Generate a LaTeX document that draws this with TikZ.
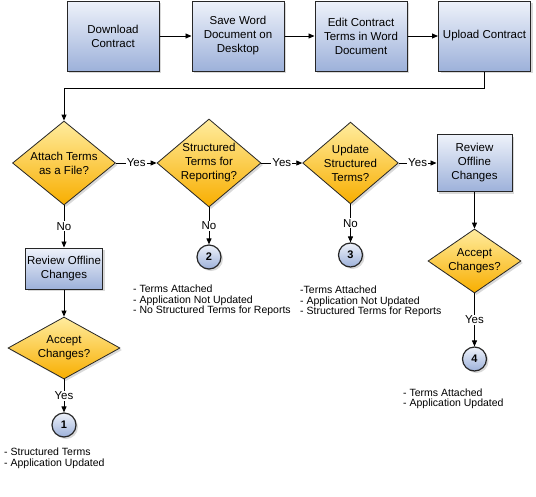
\documentclass[tikz,border=0pt]{standalone}
\usepackage{fontspec}
\setmainfont{Liberation Sans}
\usepackage{tikz}
\usetikzlibrary{positioning, calc}
\usetikzlibrary{arrows.meta}
\usetikzlibrary{shapes,shadows}
\definecolor{boxtop}{HTML}{EEF2FA}
\definecolor{boxbot}{HTML}{9DB1DA}
\definecolor{dectop}{HTML}{FFEC9E}
\definecolor{decbot}{HTML}{F8AE00}

\begin{document}
\begin{tikzpicture}[x=1pt,y=-1pt,draw=black!100,>={Triangle[length=6pt,width=5pt]}]

	\def \topline{36}
	\def \decline{163}
	\def \leftcol{64}
	\tikzstyle{t-node}=[draw=black!85,line width=1pt,top color=boxtop,bottom color=boxbot,drop shadow={opacity=0.3,shadow xshift=2pt,shadow yshift=-2pt},align=center,inner sep=0pt,minimum width=92pt,minimum height=70pt,font=\fontsize{11.5}{14}\selectfont]
	\tikzstyle{d-node}=[diamond,draw=black!85,line width=0.8pt,top color=dectop,bottom color=decbot,drop shadow={opacity=0.3,shadow xshift=2pt,shadow yshift=-2pt},align=center,inner sep=0pt,font=\fontsize{11.5}{14}\selectfont]
	\tikzstyle{c-node}=[circle,draw=black!85,line width=1.2pt,top color=boxtop,bottom color=boxbot,drop shadow={opacity=0.3,shadow xshift=2pt,shadow yshift=-2pt},minimum size=24pt,inner sep=0pt,font=\bfseries\fontsize{11}{13}\selectfont]
	\tikzstyle{annot}=[align=left,anchor=north west,inner sep=0pt,font=\fontsize{10.5}{10.5}\selectfont]
	\tikzstyle{flow}=[->,line width=0.9pt]
	\tikzstyle{choice}=[fill=white,inner sep=1pt,font=\fontsize{11.5}{14}\selectfont]

	\useasboundingbox (0,0) rectangle (536,496);

	% first row
	\node[t-node] 	(download)	at (113,\topline)		{Download\\Contract};
	\node[t-node] 	(saveword)	at (238,\topline)		{Save Word\\Document on\\Desktop};
	\node[t-node] 	(editterms)	at (361,\topline)		{Edit Contract\\Terms in Word\\Document};
	\node[t-node] 	(upload)	at (484.5,\topline)		{Upload Contract};

	% decisions
	\node[d-node,minimum width=103pt,minimum height=84pt,aspect=1.23] 	(attach)	at (\leftcol,\decline)	{Attach Terms\\as a File?};
	\node[d-node,minimum width=104pt,minimum height=88pt,aspect=1.18] 	(reporting)	at (209,\decline)	{Structured\\Terms for\\Reporting?};
	\node[d-node,minimum width=95pt,minimum height=81pt,aspect=1.17] 	(update)	at (350.5,\decline)	{Update\\Structured\\Terms?};
	\node[t-node,minimum width=75pt,minimum height=57pt] 	(reviewright)	at (474.5,\decline)	{Review\\Offline\\Changes};

	% right branch
	\node[d-node,minimum width=93pt,minimum height=64pt,aspect=1.45] 	(acceptright)	at (474.5,261)	{Accept\\Changes?};
	\node[c-node] 	(end4)	at (474.5,359)	{4};
	\node[annot] 	(note4)	at (403,388.5)	{- Terms Attached\\- Application Updated};

	% left branch
	\node[t-node,minimum width=77pt,minimum height=41pt] 	(reviewleft)	at (\leftcol,268.5)	{Review Offline\\Changes};
	\node[d-node,minimum width=112pt,minimum height=62pt,aspect=1.8] 	(acceptleft)	at (\leftcol,348)	{Accept\\Changes?};
	\node[c-node] 	(end1)	at (\leftcol,425)	{1};
	\node[annot] 	(note1)	at (4,448)	{- Structured Terms\\- Application Updated};

	% middle ends
	\node[c-node] 	(end2)	at (209,257)	{2};
	\node[c-node] 	(end3)	at (350.5,255)	{3};
	\node[annot] 	(note2)	at (133,285)	{- Terms Attached\\- Application Not Updated\\- No Structured Terms for Reports};
	\node[annot] 	(note3)	at (300,286)	{-Terms Attached\\- Application Not Updated\\- Structured Terms for Reports};

	% connectors
	\draw[flow] (download) -- (saveword);
	\draw[flow] (saveword) -- (editterms);
	\draw[flow] (editterms) -- (upload);
	\draw[flow] (upload.south) -- ++(0,17) -| (attach.north);
	\draw[flow] (attach) -- node[choice] {Yes} (reporting);
	\draw[flow] (reporting) -- node[choice] {Yes} (update);
	\draw[flow] (update) -- node[choice] {Yes} (reviewright);
	\draw[flow] (attach) -- node[choice] {No} (reviewleft);
	\draw[flow] (reporting) -- node[choice] {No} (end2);
	\draw[flow] (update) -- node[choice] {No} (end3);
	\draw[flow] (reviewright) -- (acceptright);
	\draw[flow] (acceptright) -- node[choice] {Yes} (end4);
	\draw[flow] (reviewleft) -- (acceptleft);
	\draw[flow] (acceptleft) -- node[choice] {Yes} (end1);
\end{tikzpicture}
\end{document}
